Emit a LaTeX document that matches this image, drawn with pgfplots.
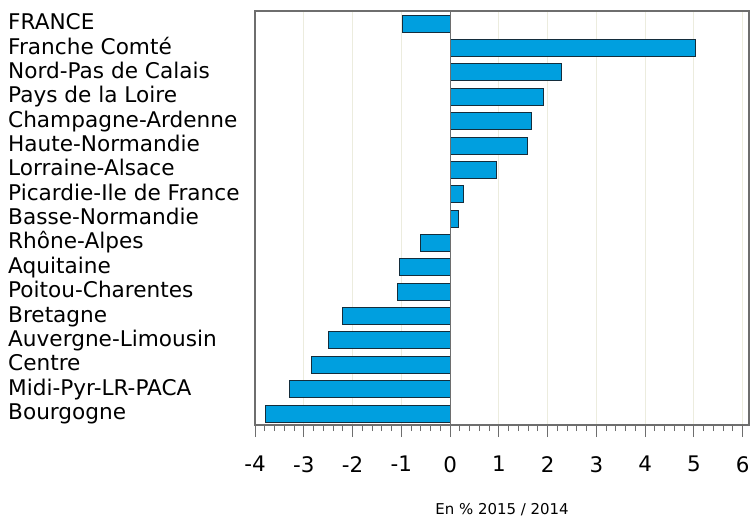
\documentclass[border=0pt]{standalone}
\usepackage{pgfplots}
\pgfplotsset{compat=1.18}
\usepackage{fontspec}
\setmainfont{DejaVu Sans}
\definecolor{barblue}{RGB}{0,159,223}
\definecolor{baredge}{RGB}{20,45,60}
\definecolor{gridc}{RGB}{236,236,222}
\definecolor{framec}{RGB}{110,110,110}
\begin{document}
\begin{tikzpicture}
\useasboundingbox (0,0) rectangle (750bp,517bp);
\begin{axis}[
  at={(255bp,92bp)}, anchor=south west,
  scale only axis, width=494bp, height=414bp,
  xbar, bar width=17bp,
  xmin=-4, xmax=6.13,
  ymin=-0.52, ymax=16.47, y dir=reverse,
  ytick={0,...,16},
  yticklabels={FRANCE,Franche Comté,Nord-Pas de Calais,Pays de la Loire,Champagne-Ardenne,Haute-Normandie,Lorraine-Alsace,Picardie-Ile de France,Basse-Normandie,Rhône-Alpes,Aquitaine,Poitou-Charentes,Bretagne,Auvergne-Limousin,Centre,Midi-Pyr-LR-PACA,Bourgogne},
  yticklabel style={anchor=west, inner sep=0pt, xshift=-235bp, text height=16bp, text depth=4bp, font=\fontsize{21.7}{22}\selectfont},
  ytick style={draw=none},
  xtick={-4,...,6}, minor x tick num=4,
  xtick pos=bottom, tick align=outside,
  major tick length=12bp, minor tick length=6bp,
  x tick style={framec, line width=1bp},
  xticklabel style={anchor=north, inner sep=0pt, font=\fontsize{21.5}{22}\selectfont},
  xticklabel shift=19bp,
  /pgf/number format/assume math mode=true,
  xmajorgrids, grid style={gridc, line width=1bp},
  axis line style={framec, line width=1.2bp},
  xlabel={En \% 2015 / 2014},
  xlabel style={at={(axis description cs:0.5,0)}, anchor=center, yshift=-85bp, font=\fontsize{15}{15}\selectfont},
]
\addplot[fill=barblue, draw=baredge, line width=1bp] coordinates {
(-0.98,0) (5.03,1) (2.29,2) (1.91,3) (1.66,4) (1.58,5) (0.95,6) (0.28,7) (0.17,8) (-0.60,9) (-1.04,10) (-1.08,11) (-2.21,12) (-2.49,13) (-2.85,14) (-3.30,15) (-3.78,16)
};
\draw[framec, line width=1bp] (axis cs:0,-0.52) -- (axis cs:0,16.47);
\end{axis}
\end{tikzpicture}
\end{document}
